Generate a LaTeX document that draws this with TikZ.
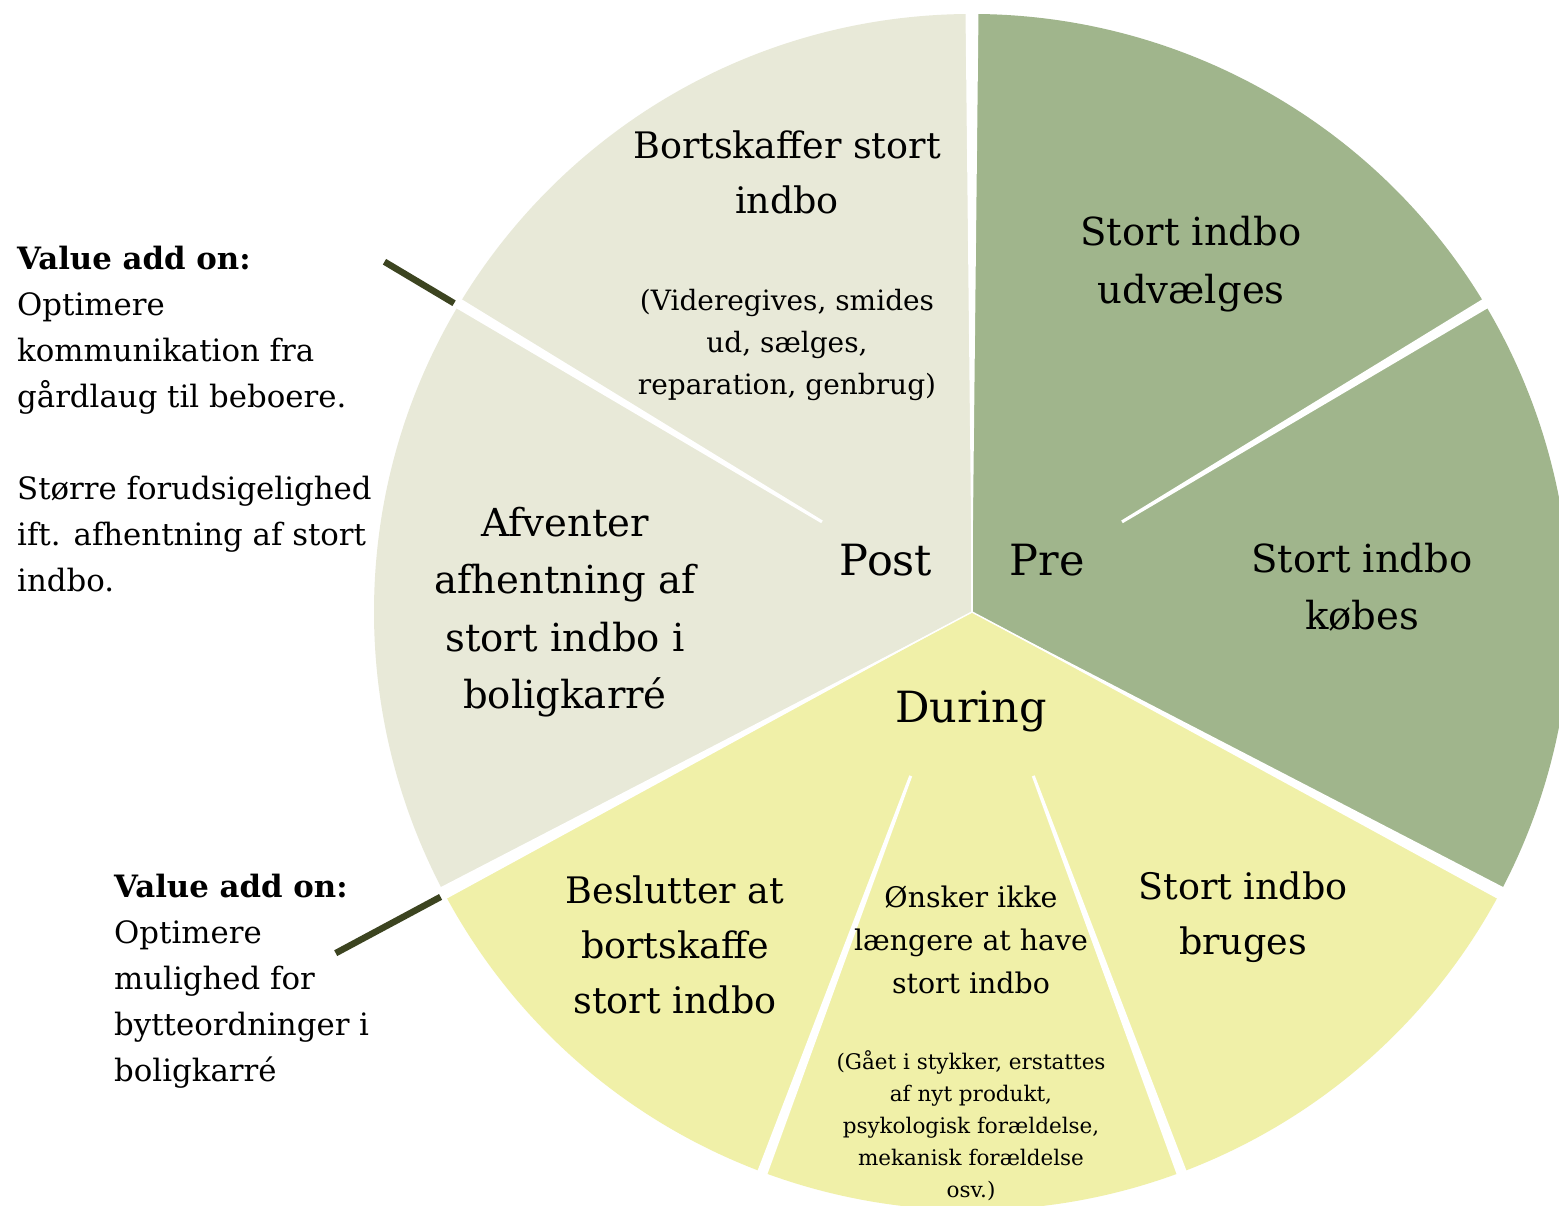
\documentclass[tikz,border=0pt]{standalone}
\usepackage{fontspec}
\setmainfont{DejaVu Serif}
\usetikzlibrary{calc}
\definecolor{preGreen}{RGB}{160,181,140}
\definecolor{postBeige}{RGB}{232,233,216}
\definecolor{duringYellow}{RGB}{240,240,168}
\definecolor{leaderOlive}{RGB}{60,68,32}
\begin{document}
\begin{tikzpicture}[x=1pt,y=1pt,
  txt/.style={align=center, inner sep=0pt, text=black},
  stepbig/.style={txt, font=\fontsize{38.6}{57.5}\selectfont},
  stepmid/.style={txt, font=\fontsize{36.5}{55}\selectfont},
  phase/.style={txt, font=\fontsize{43}{50}\selectfont},
  note/.style={txt, font=\fontsize{28}{42}\selectfont},
  smallnote/.style={txt, font=\fontsize{21.5}{32}\selectfont},
  wish/.style={txt, font=\fontsize{28.4}{43}\selectfont},
  sidenote/.style={inner sep=0pt, align=left, anchor=west, font=\fontsize{30.8}{46}\selectfont},
  gap/.style={fill=white},
  leader/.style={draw=leaderOlive, line width=6.5}
]
\clip (0,0) rectangle (1559,1206);
\fill[white] (0,0) rectangle (1559,1206);

% wheel centre and radius
\coordinate (C) at (972,594);
\def\R{598}

% the three phases
\fill[preGreen] (C) -- ($(C)+(-28:\R)$) arc[start angle=-28, end angle=90, radius=\R] -- cycle;
\fill[postBeige] (C) -- ($(C)+(90:\R)$) arc[start angle=90, end angle=208, radius=\R] -- cycle;
\fill[duringYellow] (C) -- ($(C)+(208:\R)$) arc[start angle=208, end angle=332, radius=\R] -- cycle;

% white gaps between phases
\foreach \a in {90,-28,208} {
  \fill[gap] (C) -- ($(C)+(\a-0.62:640)$) -- ($(C)+(\a+0.62:640)$) -- cycle;
  \draw[white, line width=1.5] (C) -- ($(C)+(\a:640)$);
}
% white gaps between steps inside a phase
\foreach \a in {31,149,-69.5,-110.5} {
  \fill[gap] ($(C)+(\a-0.5:175)$) -- ($(C)+(\a-0.5:640)$) -- ($(C)+(\a+0.5:640)$) -- ($(C)+(\a+0.5:175)$) -- cycle;
}

% leader lines to the side notes
\coordinate (t1) at ($(C)+(149.2:603)$);
\coordinate (t2) at ($(C)+(149.2:684)$);
\coordinate (b1) at ($(C)+(208.2:603)$);
\coordinate (b2) at ($(C)+(208.2:722)$);
\draw[leader] (t1) -- (t2);
\draw[leader] (b1) -- (b2);

% phase names
\node[phase] (pre) at (1047,646) {Pre};
\node[phase] (post) at (886,646) {Post};
\node[phase] (during) at (971,495) {During};

% Pre steps
\node[stepbig] (udv) at (1191,942) {Stort indbo\\udvælges};
\node[stepbig] (kob) at (1362,619) {Stort indbo\\købes};

% Post steps
\node[stepmid] (bort) at (787,1034) {Bortskaffer stort\\indbo};
\node[note] (bortsub) at (787,861) {(Videregives, smides\\ud, sælges,\\reparation, genbrug)};
\node[stepbig] (afv) at (565,594) {Afventer\\afhentning af\\stort indbo i\\boligkarré};

% During steps
\node[stepmid] (besl) at (675,261) {Beslutter at\\bortskaffe\\stort indbo};
\node[wish] (onsk) at (971,266) {Ønsker ikke\\længere at have\\stort indbo};
\node[smallnote] (onsksub) at (971,80) {(Gået i stykker, erstattes\\af nyt produkt,\\psykologisk forældelse,\\mekanisk forældelse\\osv.)};
\node[stepmid] (brug) at (1243,289) {Stort indbo\\bruges};

% side notes
\node[sidenote] (noteTop) at (17,787) {\textbf{Value add on:}\\Optimere\\kommunikation fra\\gårdlaug til beboere.\\[46pt]Større forudsigelighed\\ift. afhentning af stort\\indbo.};
\node[sidenote] (noteBottom) at (114,224.5) {\textbf{Value add on:}\\Optimere\\mulighed for\\bytteordninger i\\boligkarré};
\end{tikzpicture}
\end{document}
